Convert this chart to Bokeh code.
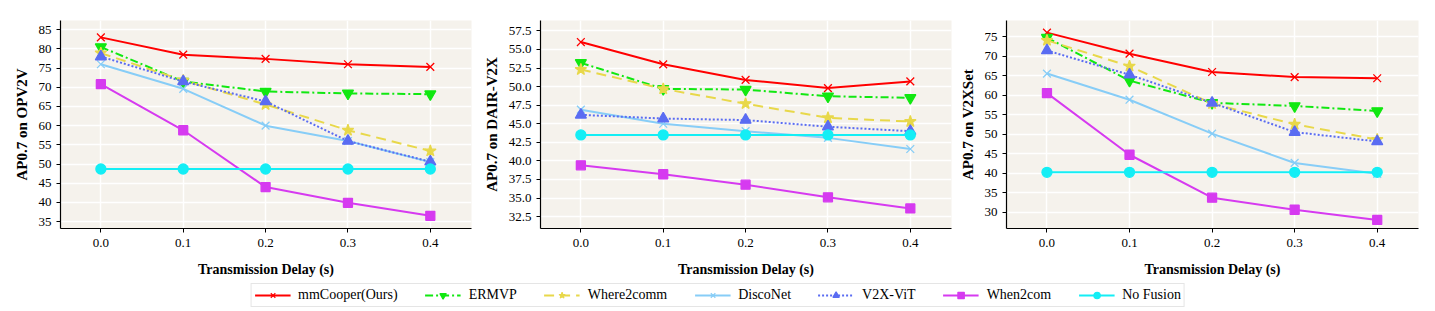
from bokeh.plotting import figure
from bokeh.layouts import column, row
from bokeh.models import Legend, LegendItem, FixedTicker, NumeralTickFormatter, Range1d
from bokeh.embed import file_html
from bokeh.resources import INLINE

delays = [0.0, 0.1, 0.2, 0.3, 0.4]
methods = ["mmCooper(Ours)", "ERMVP", "Where2comm", "DiscoNet", "V2X-ViT", "When2com", "No Fusion"]

opv2v_mmcooper = [83.0, 78.5, 77.4, 76.0, 75.3]
opv2v_ermvp = [80.5, 71.5, 68.9, 68.4, 68.2]
opv2v_where2comm = [78.9, 71.8, 65.5, 58.8, 53.4]
opv2v_disconet = [76.0, 69.6, 60.0, 56.0, 50.5]
opv2v_v2xvit = [78.0, 71.5, 66.3, 56.0, 50.6]
opv2v_when2com = [70.8, 58.8, 44.0, 39.9, 36.5]
opv2v_nofusion = [48.7, 48.7, 48.7, 48.7, 48.7]

dair_mmcooper = [56.0, 53.0, 50.9, 49.8, 50.7]
dair_ermvp = [53.2, 49.7, 49.6, 48.7, 48.5]
dair_where2comm = [52.3, 49.7, 47.7, 45.8, 45.3]
dair_disconet = [46.9, 45.0, 44.0, 43.1, 41.6]
dair_v2xvit = [46.2, 45.7, 45.5, 44.6, 44.0]
dair_when2com = [39.4, 38.2, 36.8, 35.1, 33.6]
dair_nofusion = [43.5, 43.5, 43.5, 43.5, 43.5]

v2xset_mmcooper = [76.0, 70.6, 65.9, 64.6, 64.3]
v2xset_ermvp = [74.7, 63.7, 58.0, 57.2, 55.9]
v2xset_where2comm = [74.0, 67.4, 57.8, 52.5, 48.6]
v2xset_disconet = [65.5, 58.8, 50.1, 42.6, 39.8]
v2xset_v2xvit = [71.4, 65.2, 58.0, 50.5, 48.1]
v2xset_when2com = [60.5, 44.7, 33.7, 30.6, 28.0]
v2xset_nofusion = [40.2, 40.2, 40.2, 40.2, 40.2]

y_titles = ["AP0.7 on OPV2V", "AP0.7 on DAIR-V2X", "AP0.7 on V2XSet"]
y_ticks_opv2v = [35, 40, 45, 50, 55, 60, 65, 70, 75, 80, 85]
y_ticks_dair = [32.5, 35.0, 37.5, 40.0, 42.5, 45.0, 47.5, 50.0, 52.5, 55.0, 57.5]
y_ticks_v2xset = [30, 35, 40, 45, 50, 55, 60, 65, 70, 75]

styles = [
    dict(color="#FF0000", dash="solid", marker="x", size=11),
    dict(color="#11E811", dash="8 3 2 3", marker="inverted_triangle", size=11),
    dict(color="#E8D84A", dash="10 6", marker="star", size=12),
    dict(color="#87CDF7", dash="solid", marker="x", size=11),
    dict(color="#5A6CF2", dash="2 2", marker="triangle", size=11),
    dict(color="#D63AF0", dash="solid", marker="square", size=9),
    dict(color="#14EEF5", dash="solid", marker="circle", size=10),
]

FONT = "Liberation Serif"
BG = "#F5F2EC"


def make_panel(series, y_title, yticks, yrange, fmt, border_left, border_right, frame_w):
    p = figure(output_backend="svg", toolbar_location=None,
               frame_width=frame_w, frame_height=208,
               x_range=Range1d(-0.049, 0.45), y_range=Range1d(*yrange),
               min_border_left=border_left, min_border_right=border_right,
               min_border_top=20, min_border_bottom=52)
    p.background_fill_color = BG
    p.border_fill_color = "white"
    p.outline_line_color = None
    p.grid.grid_line_color = "white"
    p.grid.grid_line_width = 1.5
    p.xaxis.ticker = FixedTicker(ticks=delays)
    p.yaxis.ticker = FixedTicker(ticks=yticks)
    p.xaxis.formatter = NumeralTickFormatter(format="0.0")
    p.yaxis.formatter = NumeralTickFormatter(format=fmt)
    for ax in (p.xaxis, p.yaxis):
        ax.axis_line_color = "black"
        ax.axis_line_width = 1.2
        ax.major_tick_line_color = "black"
        ax.major_tick_out = 4
        ax.major_tick_in = 0
        ax.minor_tick_line_color = None
        ax.major_label_text_font = FONT
        ax.major_label_text_font_size = "13px"
        ax.major_label_text_color = "black"
        ax.axis_label_text_font = FONT
        ax.axis_label_text_font_style = "bold"
        ax.axis_label_text_color = "black"
    p.yaxis.axis_label = y_title
    p.yaxis.axis_label_text_font_size = "15px"
    p.yaxis.axis_label_standoff = 6
    p.xaxis.axis_label = "Transmission Delay (s)"
    p.xaxis.axis_label_text_font_size = "14px"
    p.xaxis.axis_label_standoff = 12
    p.xaxis.major_label_standoff = 6
    p.yaxis.major_label_standoff = 5
    for vals, st in zip(series, styles):
        p.line(delays, vals, line_color=st["color"], line_width=2, line_dash=st["dash"])
        p.scatter(delays, vals, marker=st["marker"], size=st["size"],
                  line_color=st["color"], fill_color=st["color"], line_width=1.3)
    return p


p1 = make_panel([opv2v_mmcooper, opv2v_ermvp, opv2v_where2comm, opv2v_disconet,
                 opv2v_v2xvit, opv2v_when2com, opv2v_nofusion],
                y_titles[0], y_ticks_opv2v, (33.2, 87.4), "0", 60, 9, 411)
p2 = make_panel([dair_mmcooper, dair_ermvp, dair_where2comm, dair_disconet,
                 dair_v2xvit, dair_when2com, dair_nofusion],
                y_titles[1], y_ticks_dair, (30.9, 58.9), "0.0", 57, 2, 411)
p3 = make_panel([v2xset_mmcooper, v2xset_ermvp, v2xset_where2comm, v2xset_disconet,
                 v2xset_v2xvit, v2xset_when2com, v2xset_nofusion],
                y_titles[2], y_ticks_v2xset, (25.8, 79.1), "0", 53, 10, 412)

# legend figure
lf = figure(output_backend="svg", toolbar_location=None, width=1425, height=30,
            x_range=Range1d(0, 1), y_range=Range1d(0, 1),
            min_border=0, min_border_left=10)
lf.axis.visible = False
lf.grid.visible = False
lf.outline_line_color = None
lf.background_fill_color = "white"
lf.border_fill_color = "white"
items = []
for name, st in zip(methods, styles):
    r1 = lf.line([5, 6], [5, 6], line_color=st["color"], line_width=2, line_dash=st["dash"])
    r2 = lf.scatter([5.5], [5.5], marker=st["marker"], size=st["size"] - 3,
                    line_color=st["color"], fill_color=st["color"], line_width=1.2)
    items.append(LegendItem(label=name, renderers=[r1, r2]))
leg = Legend(items=items, orientation="horizontal", location="center",
             label_text_font=FONT, label_text_font_size="14px",
             label_text_color="black",
             glyph_width=36, glyph_height=16, spacing=27, padding=3, margin=0,
             label_standoff=8,
             border_line_color="#CCCCCC", border_line_width=1,
             background_fill_color="white", background_fill_alpha=1)
lf.add_layout(leg, "center")

layout = column(row(p1, p2, p3), lf, spacing=0)
open("out.html", "w").write(file_html(layout, INLINE))
